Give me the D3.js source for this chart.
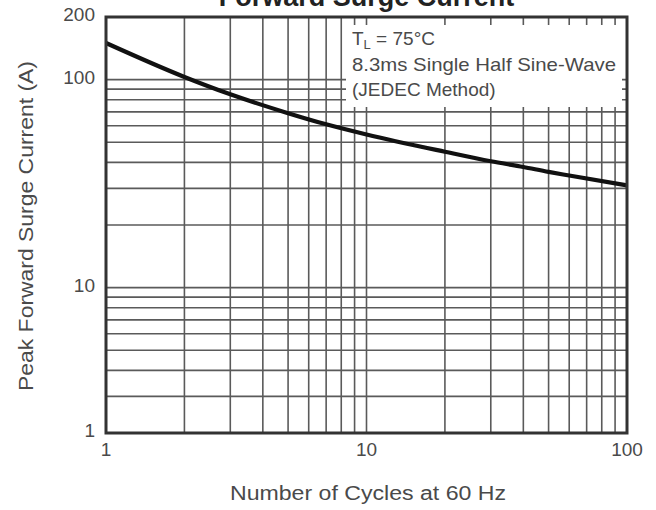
<!DOCTYPE html>
<html>
<head>
<meta charset="utf-8">
<script src="https://cdn.jsdelivr.net/npm/d3@7"></script>
<style>
  body { margin: 0; background: #fff; }
  svg { display: block; font-family: "Liberation Sans", Arial, sans-serif; }
</style>
</head>
<body>
<div id="chart"></div>
<script>
// surge curve
let cycles = [1, 2, 3, 5, 7, 10, 20, 30, 40, 50, 60, 100];
let surgeAmps = [150, 103, 85, 69, 61, 54.5, 45, 40.5, 38, 36, 34.6, 31];

let xTickVals = [1, 10, 100];
let xTickLabels = ['1', '10', '100'];
// the picture labels its bottom line "1" although it sits where 2 would be
let yTickVals = [2, 10, 100, 200];
let yTickLabels = ['1', '10', '100', '200'];
let xGrid = [2, 3, 4, 5, 6, 7, 8, 9, 10, 20, 30, 40, 50, 60, 70, 80, 90];
let yGrid = [3, 4, 5, 6, 7, 8, 9, 10, 20, 30, 40, 50, 60, 70, 80, 90, 100];

let noteLines = ['8.3ms Single Half Sine-Wave', '(JEDEC Method)'];

function ready(fn) {
  if (document.readyState != 'loading'){
    fn();
  } else {
    document.addEventListener('DOMContentLoaded', fn);
  }
}

ready(main);

function main() {
  let width = 656, height = 510;
  let margin = {top: 17, right: 29, bottom: 77, left: 106};
  let textColor = '#4a4a4a';

  let svg = d3.select('#chart').append('svg')
    .attr('width', width)
    .attr('height', height);

  let x = d3.scaleLog().domain([1, 100]).range([margin.left, width - margin.right]);
  let y = d3.scaleLog().domain([2, 200]).range([height - margin.bottom, margin.top]);

  // title, mostly cut off at the top edge like the source
  svg.append('text')
    .attr('x', (x.range()[0] + x.range()[1]) / 2)
    .attr('y', 6)
    .attr('text-anchor', 'middle')
    .attr('font-weight', 'bold')
    .attr('font-size', 27)
    .attr('fill', '#222')
    .text('Forward Surge Current');

  // grid
  let grid = svg.append('g').attr('stroke', '#5a5a5a').attr('stroke-width', 1.6);
  grid.selectAll('line.v').data(xGrid).join('line')
    .attr('class', 'v')
    .attr('x1', d => x(d)).attr('x2', d => x(d))
    .attr('y1', y.range()[0]).attr('y2', y.range()[1]);
  grid.selectAll('line.h').data(yGrid).join('line')
    .attr('class', 'h')
    .attr('x1', x.range()[0]).attr('x2', x.range()[1])
    .attr('y1', d => y(d)).attr('y2', d => y(d));

  // white note box over the grid
  let note = svg.append('g').attr('transform', 'translate(346,25)');
  note.append('rect')
    .attr('width', 276)
    .attr('height', 82)
    .attr('fill', '#fff');
  let t1 = note.append('text')
    .attr('x', 6).attr('y', 20)
    .attr('font-size', 19)
    .attr('fill', textColor);
  t1.append('tspan').text('T');
  t1.append('tspan').attr('dy', 4).attr('font-size', 13).text('L');
  t1.append('tspan').attr('dy', -4).text(' = 75\u00b0C');
  note.selectAll('text.line').data(noteLines).join('text')
    .attr('class', 'line')
    .attr('x', 6)
    .attr('y', (d, i) => 46 + i * 25)
    .attr('font-size', 19)
    .attr('textLength', (d, i) => i == 0 ? 264 : null)
    .attr('lengthAdjust', 'spacingAndGlyphs')
    .attr('fill', textColor)
    .text(d => d);

  // curve
  let line = d3.line()
    .x((d, i) => x(cycles[i]))
    .y(d => y(d))
    .curve(d3.curveMonotoneX);
  svg.append('path')
    .datum(surgeAmps)
    .attr('fill', 'none')
    .attr('stroke', '#111')
    .attr('stroke-width', 4.2)
    .attr('d', line);

  // frame
  svg.append('rect')
    .attr('x', x.range()[0]).attr('y', y.range()[1])
    .attr('width', x.range()[1] - x.range()[0])
    .attr('height', y.range()[0] - y.range()[1])
    .attr('fill', 'none')
    .attr('stroke', '#333')
    .attr('stroke-width', 3);

  // tick labels
  svg.selectAll('text.xt').data(xTickVals).join('text')
    .attr('class', 'xt')
    .attr('x', d => x(d))
    .attr('y', y.range()[0] + 23)
    .attr('text-anchor', 'middle')
    .attr('font-size', 19)
    .attr('fill', textColor)
    .text((d, i) => xTickLabels[i]);
  svg.selectAll('text.yt').data(yTickVals).join('text')
    .attr('class', 'yt')
    .attr('x', x.range()[0] - 11)
    .attr('y', d => y(d) + 4)
    .attr('text-anchor', 'end')
    .attr('font-size', 19)
    .attr('fill', textColor)
    .text((d, i) => yTickLabels[i]);

  // axis titles
  svg.append('text')
    .attr('x', 368).attr('y', 500)
    .attr('text-anchor', 'middle')
    .attr('font-size', 20)
    .attr('textLength', 276)
    .attr('lengthAdjust', 'spacingAndGlyphs')
    .attr('fill', textColor)
    .text('Number of Cycles at 60 Hz');
  svg.append('text')
    .attr('transform', 'translate(33,226) rotate(-90)')
    .attr('text-anchor', 'middle')
    .attr('font-size', 21)
    .attr('textLength', 330)
    .attr('lengthAdjust', 'spacingAndGlyphs')
    .attr('fill', textColor)
    .text('Peak Forward Surge Current (A)');
}
</script>
</body>
</html>
